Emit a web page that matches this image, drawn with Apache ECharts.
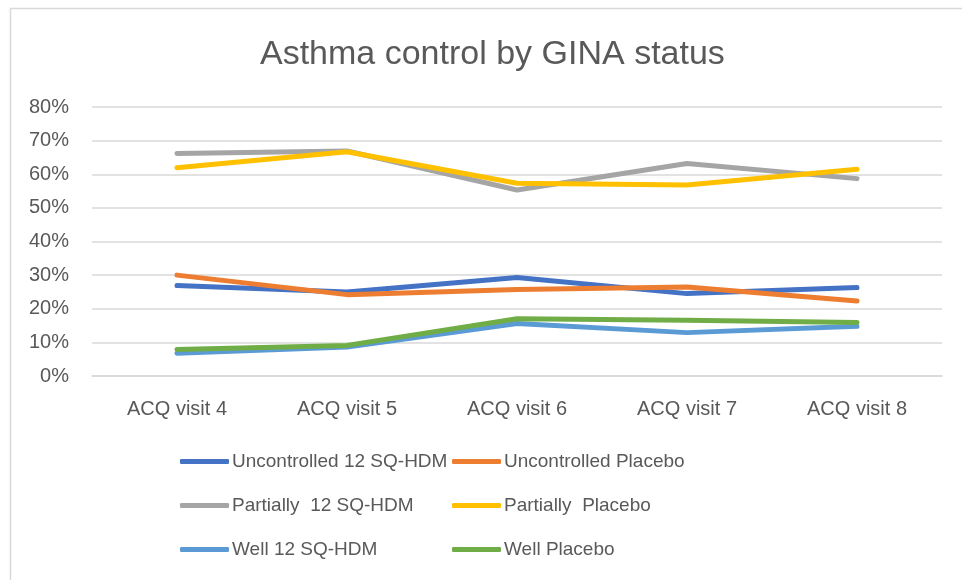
<!DOCTYPE html>
<html>
<head>
<meta charset="utf-8">
<script src="https://cdn.jsdelivr.net/npm/echarts@6/dist/echarts.min.js"></script>
<style>
  html, body { margin: 0; padding: 0; background: #fff; }
  #chart { width: 962px; height: 580px; }
</style>
</head>
<body>
<div id="chart"></div>
<script>
// Visits on the x axis
var visits = ['ACQ visit 4', 'ACQ visit 5', 'ACQ visit 6', 'ACQ visit 7', 'ACQ visit 8'];

// Share of patients (%) per GINA control status and treatment arm
var uncontrolledActive = [26.9, 25.0, 29.3, 24.5, 26.3];
var uncontrolledPlacebo = [30.0, 24.2, 25.7, 26.5, 22.3];
var partiallyActive = [66.2, 66.9, 55.3, 63.2, 58.7];
var partiallyPlacebo = [61.9, 66.7, 57.3, 56.8, 61.5];
var wellActive = [6.8, 8.6, 15.6, 12.9, 14.8];
var wellPlacebo = [7.9, 9.1, 17.0, 16.6, 15.9];

var seriesNames = [
  'Uncontrolled 12 SQ-HDM', 'Uncontrolled Placebo',
  'Partially  12 SQ-HDM', 'Partially  Placebo',
  'Well 12 SQ-HDM', 'Well Placebo'
];
var seriesData = [uncontrolledActive, uncontrolledPlacebo, partiallyActive, partiallyPlacebo, wellActive, wellPlacebo];
var colors = ['#4472C4', '#ED7D31', '#A5A5A5', '#FFC000', '#5B9BD5', '#70AD47'];

var font = 'Liberation Sans, Arial, sans-serif';
var textColor = '#595959';

var series = seriesNames.map(function (name, i) {
  return {
    name: name,
    type: 'line',
    data: seriesData[i],
    symbol: 'none',
    smooth: false,
    lineStyle: { width: 5, color: colors[i], cap: 'round', join: 'round' },
    itemStyle: { color: colors[i] },
    z: 2 + i
  };
});

// One legend per entry so the two columns line up
var legendCols = [180, 452];
var legendRows = [452, 496, 540];
var legends = seriesNames.map(function (name, i) {
  return {
    data: [name],
    left: legendCols[i % 2],
    top: legendRows[Math.floor(i / 2)],
    padding: 0,
    icon: 'roundRect',
    itemWidth: 49,
    itemHeight: 5,
    itemGap: 0,
    textStyle: { fontFamily: font, fontSize: 19, color: textColor, padding: [0, 0, 0, -2] },
    selectedMode: false
  };
});

var chart = echarts.init(document.getElementById('chart'));
chart.setOption({
  animation: false,
  backgroundColor: '#fff',
  color: colors,
  title: {
    text: 'Asthma control by GINA status',
    left: 255,
    top: 33,
    textStyle: { fontFamily: font, fontSize: 34, fontWeight: 'normal', color: textColor }
  },
  graphic: [{
    type: 'rect',
    shape: { x: 10.5, y: 8.5, width: 980, height: 600 },
    style: { fill: 'none', stroke: '#d9d9d9', lineWidth: 1.5 },
    silent: true
  }],
  legend: legends,
  grid: { left: 92, right: 20, top: 107, bottom: 204, containLabel: false },
  xAxis: {
    type: 'category',
    data: visits,
    boundaryGap: true,
    axisLine: { show: true, lineStyle: { color: '#d9d9d9', width: 1.5 } },
    axisTick: { show: false },
    axisLabel: { fontFamily: font, fontSize: 20, color: textColor, margin: 23 }
  },
  yAxis: {
    type: 'value',
    min: 0,
    max: 80,
    interval: 10,
    axisLine: { show: false },
    axisTick: { show: false },
    splitLine: { lineStyle: { color: '#d9d9d9', width: 1.5 } },
    axisLabel: { fontFamily: font, fontSize: 20, color: textColor, margin: 23, formatter: '{value}%' }
  },
  series: series
});
</script>
</body>
</html>
